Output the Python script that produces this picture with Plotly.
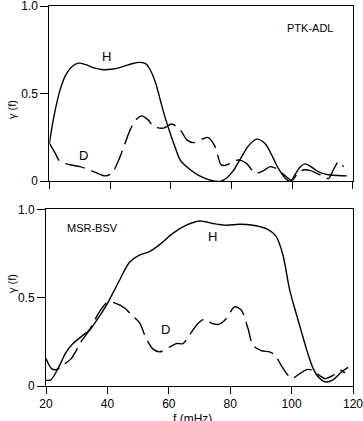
import plotly.graph_objects as go

# ---- data ----
top_h_f = [20, 21.5, 23.5, 25.5, 27.5, 29.6, 32, 35, 37.8, 41, 44.4, 47.5, 49.9, 51.8, 53.2, 55, 56.5, 58,
           59.8, 61.5, 63.1, 66.4, 69, 72, 74.5, 76.5, 78.5, 80.6, 83, 85.5, 88.3, 91, 93.5, 95.5, 97.7,
           99.3, 101, 102.5, 104.2, 106, 108, 110, 112, 115, 118]
top_h_g = [0.217, 0.37, 0.52, 0.61, 0.655, 0.674, 0.665, 0.645, 0.636, 0.64, 0.655, 0.672, 0.678, 0.67,
           0.636, 0.56, 0.465, 0.37, 0.274, 0.19, 0.12, 0.065, 0.035, 0.012, 0.0, 0.0, 0.02, 0.06, 0.13,
           0.2, 0.24, 0.215, 0.14, 0.07, 0.017, 0.0, 0.04, 0.08, 0.099, 0.085, 0.06, 0.045, 0.037, 0.032, 0.03]

top_d_f = [20, 21.9, 23.5, 26.5, 30.1, 34.5, 38.4, 40.6, 43.3, 46.6, 48.5, 50.4, 52.5, 54.3, 57.6, 60.3,
           63.1, 65.3, 67.5, 70.3, 72.2, 74.5, 76.6, 78.5, 80.7, 82.8, 85, 87.8, 90.5, 92.7, 94.9, 97.7,
           99.9, 102, 104, 106, 108, 110, 112, 113, 115.2, 116.9]
top_d_g = [0.217, 0.16, 0.112, 0.095, 0.083, 0.055, 0.03, 0.046, 0.14, 0.293, 0.35, 0.373, 0.35, 0.312,
           0.303, 0.326, 0.293, 0.236, 0.22, 0.24, 0.25, 0.2, 0.093, 0.093, 0.116, 0.12, 0.1, 0.046, 0.06,
           0.083, 0.07, 0.03, 0.005, 0.05, 0.065, 0.06, 0.045, 0.03, 0.015, 0.046, 0.11, 0.083]

bot_h_f = [20, 21.6, 23.9, 26.6, 28.8, 32.1, 34.2, 36.9, 39.7, 44, 47.2, 50.4, 53.7, 57, 61.3, 65.7, 70,
           74.3, 78.7, 83, 87.4, 91.7, 95, 97.2, 99.3, 101, 103, 105, 107, 109, 111, 113.5, 116.3, 118.4]
bot_h_g = [0.032, 0.035, 0.098, 0.193, 0.24, 0.288, 0.316, 0.382, 0.458, 0.6, 0.70, 0.74, 0.76, 0.80,
           0.864, 0.91, 0.934, 0.92, 0.91, 0.915, 0.91, 0.89, 0.845, 0.74, 0.55, 0.44, 0.32, 0.2, 0.1,
           0.045, 0.023, 0.035, 0.08, 0.105]

bot_d_f = [20, 21.8, 23.4, 25.4, 28.2, 31.4, 34.1, 37.4, 40.2, 43, 45.7, 48, 50.4, 52.6, 54.8, 57, 60.2,
           62.4, 64.6, 66.7, 69.5, 71.6, 74.3, 76.5, 78.7, 81.4, 83.6, 85.8, 87.4, 90.1, 92.8, 94.6, 96.5,
           98.4, 100, 102.7, 104.9, 107, 109, 110.9, 113.5, 115.7, 117.4]
bot_d_g = [0.155, 0.098, 0.093, 0.117, 0.155, 0.25, 0.316, 0.42, 0.476, 0.466, 0.44, 0.40, 0.36, 0.27,
           0.21, 0.193, 0.22, 0.24, 0.24, 0.287, 0.353, 0.378, 0.353, 0.35, 0.38, 0.448, 0.43, 0.325, 0.23,
           0.20, 0.193, 0.174, 0.12, 0.07, 0.042, 0.07, 0.093, 0.089, 0.06, 0.042, 0.06, 0.09, 0.074]

x_ticks = [20, 40, 60, 80, 100, 120]
y_ticks = [0, 0.5, 1.0]
y_tick_text = ["0", "0.5", "1.0"]

FONT = "Liberation Sans, Arial, Helvetica, sans-serif"

fig = go.Figure()
solid = dict(color="black", width=1.4, shape="spline", smoothing=0.8)
dashed = dict(color="black", width=1.4, shape="spline", smoothing=0.8, dash="20px,7px")

fig.add_trace(go.Scatter(x=top_h_f, y=top_h_g, mode="lines", line=solid, xaxis="x", yaxis="y"))
fig.add_trace(go.Scatter(x=top_d_f, y=top_d_g, mode="lines", line=dashed, xaxis="x", yaxis="y"))
fig.add_trace(go.Scatter(x=bot_h_f, y=bot_h_g, mode="lines", line=solid, xaxis="x2", yaxis="y2"))
fig.add_trace(go.Scatter(x=bot_d_f, y=bot_d_g, mode="lines", line=dashed, xaxis="x2", yaxis="y2"))

axis_common = dict(range=[20, 120], showgrid=False, zeroline=False, showline=True, linecolor="black",
                   linewidth=1, mirror=True, ticks="outside", ticklen=7, tickcolor="black", tickwidth=1,
                   tickvals=x_ticks, ticklabeloverflow="allow", automargin=False,
                   tickfont=dict(family=FONT, size=12, color="black"))
yaxis_common = dict(range=[0, 1.0], showgrid=False, zeroline=False, showline=True, linecolor="black",
                    linewidth=1, mirror=True, ticks="outside", ticklen=8, tickcolor="black", tickwidth=1,
                    tickvals=y_ticks, ticktext=y_tick_text, automargin=False, ticklabeloverflow="allow",
                    tickfont=dict(family=FONT, size=12, color="black"))

fig.update_layout(
    width=363, height=421,
    margin=dict(l=46, r=10, t=6, b=35, autoexpand=False),
    paper_bgcolor="white", plot_bgcolor="white",
    showlegend=False,
    xaxis=dict(axis_common, domain=[0.011, 1.0], anchor="y", showticklabels=False),
    yaxis=dict(yaxis_common, domain=[0.539, 1.0], anchor="x"),
    xaxis2=dict(axis_common, domain=[0.0, 1.0], anchor="y2"),
    yaxis2=dict(yaxis_common, domain=[0.0, 0.465], anchor="x2"),
)

def label(text, x, y, xr, yr, size=12, **kw):
    fig.add_annotation(text=text, x=x, y=y, xref=xr, yref=yr, showarrow=False,
                       font=dict(family=FONT, size=size, color="black"), **kw)

label("H", 38.9, 0.71, "x", "y", size=13)
label("D", 31.4, 0.146, "x", "y", size=13)
label("PTK-ADL", 105.7, 0.874, "x", "y", size=11)
label("MSR-BSV", 35.1, 0.893, "x2", "y2", size=11)
label("H", 74.3, 0.845, "x2", "y2", size=13)
label("D", 58.9, 0.32, "x2", "y2", size=13)

label("γ (f)", -0.135, 0.758, "paper", "paper", size=11, textangle=-90)
label("γ (f)", -0.135, 0.2395, "paper", "paper", size=11, textangle=-90)
label("f (mHz)", 0.4756, -0.063, "paper", "paper", size=12, yanchor="top")

fig.write_html("out.html")
